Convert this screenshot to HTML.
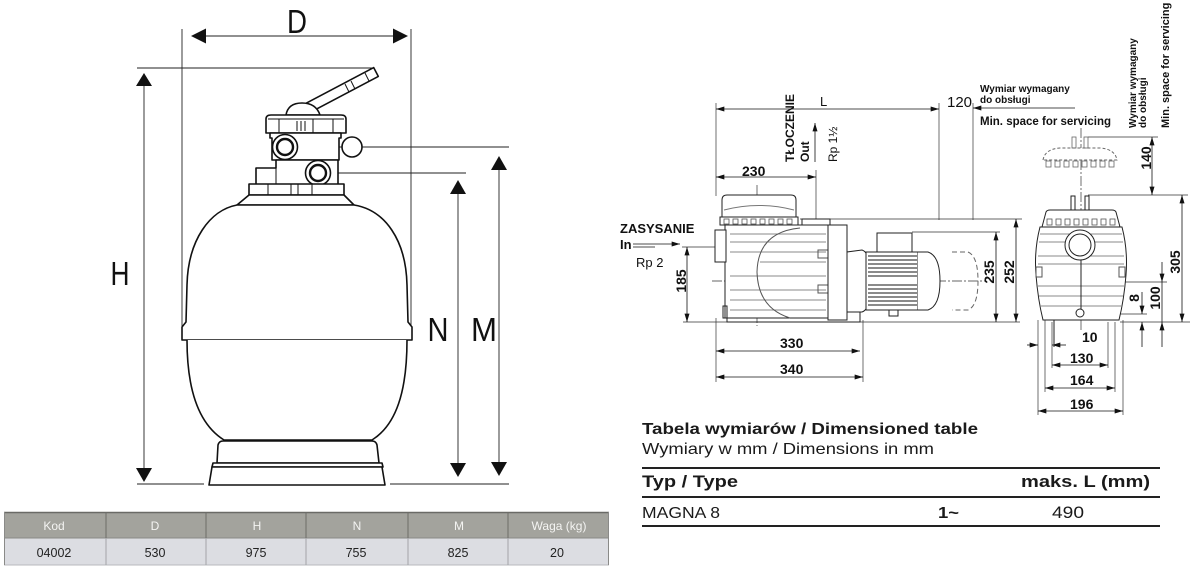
<!DOCTYPE html>
<html><head><meta charset="utf-8"><style>
html,body{margin:0;padding:0;background:#fff;}
svg{display:block;}
text{font-family:"Liberation Sans",Arial,sans-serif;}
</style></head><body>
<svg width="1195" height="574" viewBox="0 0 1195 574" xmlns="http://www.w3.org/2000/svg">
<defs>
<marker id="a" viewBox="0 0 10 6" refX="10" refY="3" markerWidth="9" markerHeight="5" orient="auto-start-reverse" markerUnits="userSpaceOnUse"><path d="M0,0 L10,3 L0,6 z" fill="#111"/></marker>
</defs>

<!-- ============ LEFT FILTER ============ -->
<g stroke="#222" stroke-width="0.9" fill="none">
  <line x1="182" y1="29" x2="182" y2="326"/>
  <line x1="411" y1="29" x2="411" y2="326"/>
  <line x1="200" y1="36" x2="398" y2="36"/>
  <line x1="137" y1="68" x2="373" y2="68"/>
  <line x1="144" y1="84" x2="144" y2="470"/>
  <line x1="137" y1="484" x2="204" y2="484"/>
  <line x1="390" y1="484" x2="509" y2="484"/>
  <line x1="298" y1="147" x2="509" y2="147"/>
  <line x1="330" y1="173" x2="466" y2="173"/>
  <line x1="458" y1="192" x2="458" y2="466"/>
  <line x1="499" y1="168" x2="499" y2="465"/>
</g>
<g fill="#111">
  <polygon points="191,36 206,28.5 206,43.5"/>
  <polygon points="408,36 393,28.5 393,43.5"/>
  <polygon points="144,73 136,86 152,86"/>
  <polygon points="144,482 136,468 152,468"/>
  <polygon points="458,180 450,194 466,194"/>
  <polygon points="458,477 450,463 466,463"/>
  <polygon points="499,156 491,170 507,170"/>
  <polygon points="499,476 491,462 507,462"/>
</g>
<text x="297" y="33" font-size="33" text-anchor="middle" fill="#111" textLength="20" lengthAdjust="spacingAndGlyphs">D</text>
<text x="120" y="285" font-size="33" text-anchor="middle" fill="#111" textLength="19" lengthAdjust="spacingAndGlyphs">H</text>
<text x="438" y="341" font-size="33" text-anchor="middle" fill="#111" textLength="21" lengthAdjust="spacingAndGlyphs">N</text>
<text x="484" y="341" font-size="33" text-anchor="middle" fill="#111" textLength="26" lengthAdjust="spacingAndGlyphs">M</text>

<g stroke="#111" stroke-width="1.6" fill="#fff" stroke-linejoin="round">
  <!-- handle -->
  <polygon points="301.7,105.6 306.3,114.4 378.3,76.4 373.7,67.6"/>
  <line x1="345" y1="84" x2="349" y2="92" stroke-width="1"/>
  <line x1="351" y1="81" x2="355" y2="89" stroke-width="1"/>
  <line x1="365" y1="73" x2="369" y2="81" stroke-width="1"/>
  <path d="M286,115 Q288,103 302,103 Q316,103 320,115 Z"/>
  <!-- cap -->
  <path d="M266,133 L266,119 Q266,115 271,115 L341,115 Q346,115 346,119 L346,133 Z"/>
  <line x1="268" y1="119" x2="344" y2="119" stroke-width="1"/>
  <line x1="279" y1="119" x2="279" y2="133" stroke-width="1"/>
  <line x1="297" y1="121" x2="297" y2="131" stroke-width="1"/>
  <line x1="301" y1="121" x2="301" y2="131" stroke-width="1"/>
  <line x1="305" y1="121" x2="305" y2="131" stroke-width="1"/>
  <line x1="313" y1="119" x2="313" y2="133" stroke-width="1"/>
  <line x1="333" y1="119" x2="333" y2="133" stroke-width="1"/>
  <!-- valve body -->
  <path d="M270,133 L341,133 L341,138 L339,138 L339,160 L272,160 L272,138 L270,138 Z"/>
  <circle cx="352" cy="147" r="10"/>
  <path d="M256,168 L276,168 L276,160 L338,160 L338,185 L256,185 Z"/>
  <line x1="276" y1="168" x2="276" y2="185" stroke-width="1"/>
  <circle cx="285" cy="147" r="12.5"/>
  <circle cx="285" cy="147" r="8" stroke-width="2.4"/>
  <circle cx="318" cy="173" r="12.5"/>
  <circle cx="318" cy="173" r="8" stroke-width="2.4"/>
  <!-- neck -->
  <rect x="249" y="184" width="95" height="11"/>
  <line x1="268" y1="184" x2="268" y2="195" stroke-width="1"/>
  <line x1="291" y1="184" x2="291" y2="195" stroke-width="1"/>
  <line x1="298" y1="184" x2="298" y2="195" stroke-width="1"/>
  <line x1="312" y1="184" x2="312" y2="195" stroke-width="1"/>
  <path d="M249,195 L344,195 L354,205 L237,205 Z"/>
  <!-- upper dome -->
  <path d="M237,205 C210,210 188,240 187,285 L186,322 L182,327 L182,340 L412,340 L412,327 L408,322 L407,285 C406,240 385,210 354,205 Z"/>
  <!-- lower bowl -->
  <path d="M187,340 C187,392 200,425 224,440 L372,440 C396,425 407,392 407,340"/>
  <!-- base -->
  <path d="M217,463 L218,445 Q219,441 223,441 L372,441 Q376,441 377,445 L379,463 Z"/>
  <path d="M212,467 L213,463 L382,463 L383,467 Z"/>
  <path d="M212,467 L209,485 L385,485 L382,467 Z"/>
</g>

<!-- left table -->
<g>
  <rect x="4" y="512" width="605" height="26" fill="#a3a39d"/>
  <rect x="4" y="538" width="605" height="27" fill="#dcdde2"/>
  <line x1="4" y1="512.5" x2="609" y2="512.5" stroke="#6a6a66" stroke-width="1.5"/>
  <line x1="4" y1="538" x2="609" y2="538" stroke="#8a8a86" stroke-width="1"/>
  <line x1="4" y1="565" x2="609" y2="565" stroke="#b8b9bd" stroke-width="1"/>
  <line x1="4.5" y1="512" x2="4.5" y2="565" stroke="#8a8a88"/>
  <line x1="608.5" y1="512" x2="608.5" y2="565" stroke="#8a8a88"/>
  <g stroke="#6c6c68" stroke-width="1">
    <line x1="106" y1="512" x2="106" y2="538"/><line x1="206" y1="512" x2="206" y2="538"/>
    <line x1="306" y1="512" x2="306" y2="538"/><line x1="408" y1="512" x2="408" y2="538"/>
    <line x1="508" y1="512" x2="508" y2="538"/>
  </g>
  <g stroke="#a3a4a8" stroke-width="1">
    <line x1="106" y1="538" x2="106" y2="565"/><line x1="206" y1="538" x2="206" y2="565"/>
    <line x1="306" y1="538" x2="306" y2="565"/><line x1="408" y1="538" x2="408" y2="565"/>
    <line x1="508" y1="538" x2="508" y2="565"/>
  </g>
  <g font-size="12" fill="#f4f4f2" text-anchor="middle">
    <text x="54" y="530">Kod</text><text x="155" y="530">D</text><text x="257" y="530">H</text>
    <text x="357" y="530">N</text><text x="459" y="530">M</text><text x="559" y="530">Waga (kg)</text>
  </g>
  <g font-size="12.5" fill="#222" text-anchor="middle">
    <text x="54" y="557">04002</text><text x="155" y="557">530</text><text x="256" y="557">975</text>
    <text x="356" y="557">755</text><text x="458" y="557">825</text><text x="557" y="557">20</text>
  </g>
</g>

<!-- ============ PUMP ============ -->
<!-- extension lines -->
<g stroke="#333" stroke-width="0.7" fill="none">
  <line x1="716" y1="103" x2="716" y2="196"/>
  <line x1="716" y1="318" x2="716" y2="382"/>
  <line x1="816" y1="170" x2="816" y2="220"/>
  <line x1="939" y1="103" x2="939" y2="220"/>
  <line x1="973" y1="103" x2="973" y2="220"/>
  <line x1="863" y1="320" x2="863" y2="382"/>
  <line x1="800" y1="219" x2="1022" y2="219"/>
  <line x1="912" y1="232" x2="1000" y2="232"/>
  <line x1="683" y1="322" x2="1020" y2="322"/>
  <line x1="1120" y1="322" x2="1190" y2="322"/>
  <line x1="682" y1="247" x2="715" y2="247"/>
  <line x1="1088" y1="195" x2="1188" y2="195"/>
  <line x1="1088" y1="137" x2="1158" y2="137"/>
  <line x1="1120" y1="282" x2="1167" y2="282"/>
  <line x1="1120" y1="314" x2="1147" y2="314"/>
  <line x1="1038" y1="320" x2="1038" y2="415"/>
  <line x1="1045" y1="320" x2="1045" y2="392"/>
  <line x1="1052" y1="322" x2="1052" y2="368"/>
  <line x1="1108" y1="322" x2="1108" y2="368"/>
  <line x1="1115" y1="322" x2="1115" y2="392"/>
  <line x1="1123" y1="320" x2="1123" y2="415"/>
  <line x1="757" y1="185" x2="757" y2="326" stroke-dasharray="10 2 2 2"/>
  <line x1="712" y1="281" x2="986" y2="281" stroke-dasharray="10 2 2 2"/>
  <line x1="1081" y1="128" x2="1081" y2="330" stroke-dasharray="10 2 2 2"/>
</g>
<!-- dimension lines -->
<g stroke="#111" stroke-width="0.8" fill="none" marker-start="url(#a)" marker-end="url(#a)">
  <line x1="716" y1="109" x2="939" y2="109"/>
  <line x1="716" y1="177" x2="816" y2="177"/>
  <line x1="716" y1="351" x2="860" y2="351"/>
  <line x1="716" y1="377" x2="863" y2="377"/>
  <line x1="1052" y1="365" x2="1108" y2="365"/>
  <line x1="1045" y1="388" x2="1115" y2="388"/>
  <line x1="1038" y1="411" x2="1123" y2="411"/>
  <line x1="687" y1="247" x2="687" y2="322"/>
  <line x1="996" y1="232" x2="996" y2="322"/>
  <line x1="1016" y1="219" x2="1016" y2="322"/>
  <line x1="1152" y1="137" x2="1152" y2="195"/>
  <line x1="1182" y1="195" x2="1182" y2="322"/>
</g>
<g stroke="#111" stroke-width="0.8" fill="none">
  <line x1="973" y1="108" x2="1075" y2="108" marker-start="url(#a)"/>
  <line x1="815" y1="162" x2="815" y2="123" marker-end="url(#a)"/>
  <line x1="1027" y1="345" x2="1038" y2="345" marker-end="url(#a)"/>
  <line x1="1066" y1="345" x2="1052" y2="345" marker-end="url(#a)"/>
  <line x1="1162" y1="262" x2="1162" y2="282" marker-end="url(#a)"/>
  <line x1="1162" y1="347" x2="1162" y2="322" marker-end="url(#a)"/>
  <line x1="1162" y1="282" x2="1162" y2="322"/>
  <line x1="1142" y1="292" x2="1142" y2="314" marker-end="url(#a)"/>
  <line x1="1142" y1="347" x2="1142" y2="322" marker-end="url(#a)"/>
  <line x1="633" y1="244" x2="680" y2="244" marker-end="url(#a)"/>
  <line x1="633" y1="247" x2="655" y2="247"/>
</g>

<!-- pump side view -->
<g stroke="#222" stroke-width="1" fill="#fff">
  <path d="M722,217 L722,200 Q722,195 727,195 L791,195 Q796,195 796,200 L796,217 Z"/>
  <path d="M724,210 Q759,201 794,210" fill="none" stroke="#777"/>
  <rect x="720" y="217" width="78" height="8"/>
  <g fill="none" stroke="#555" stroke-width="0.8">
    <rect x="724" y="219" width="5" height="5"/><rect x="733" y="219" width="5" height="5"/>
    <rect x="742" y="219" width="5" height="5"/><rect x="751" y="219" width="5" height="5"/>
    <rect x="760" y="219" width="5" height="5"/><rect x="769" y="219" width="5" height="5"/>
    <rect x="778" y="219" width="5" height="5"/><rect x="787" y="219" width="5" height="5"/>
  </g>
  <rect x="725" y="225" width="103" height="93"/>
  <rect x="715" y="230" width="11" height="32"/>
  <rect x="802" y="219" width="28" height="6"/>
  <g stroke="#888" stroke-width="0.9" fill="none">
    <line x1="730" y1="234" x2="826" y2="234"/><line x1="730" y1="242" x2="826" y2="242"/>
    <line x1="730" y1="252" x2="826" y2="252"/><line x1="760" y1="262" x2="826" y2="262"/>
    <line x1="730" y1="276" x2="826" y2="276"/><line x1="730" y1="290" x2="826" y2="290"/>
    <line x1="730" y1="300" x2="826" y2="300"/><line x1="730" y1="310" x2="826" y2="310"/>
  </g>
  <path d="M800,228 Q758,232 757,272 Q758,308 790,318" fill="none" stroke="#555"/>
  <rect x="818" y="250" width="10" height="8" fill="none" stroke="#555"/>
  <rect x="818" y="285" width="10" height="8" fill="none" stroke="#555"/>
  <rect x="723" y="306" width="4" height="12" fill="none"/>
  <rect x="828" y="225" width="19" height="95"/>
  <path d="M847,312 L847,252 L862,250 Q868,252 868,262 L868,300 Q868,310 862,312 Z"/>
  <rect x="866" y="252" width="52" height="58"/>
  <g stroke="#444" stroke-width="1.3">
    <line x1="868" y1="256" x2="917" y2="256"/><line x1="868" y1="260" x2="917" y2="260"/>
    <line x1="868" y1="264" x2="917" y2="264"/><line x1="868" y1="268" x2="917" y2="268"/>
    <line x1="868" y1="272" x2="917" y2="272"/><line x1="868" y1="276" x2="917" y2="276"/>
    <line x1="868" y1="285" x2="917" y2="285"/><line x1="868" y1="289" x2="917" y2="289"/>
    <line x1="868" y1="293" x2="917" y2="293"/><line x1="868" y1="297" x2="917" y2="297"/>
    <line x1="868" y1="301" x2="917" y2="301"/><line x1="868" y1="305" x2="917" y2="305"/>
  </g>
  <rect x="877" y="233" width="35" height="19"/>
  <path d="M918,252 L928,252 Q940,256 940,281 Q940,306 928,310 L918,310"/>
  <path d="M952,252 L968,252 Q978,256 978,281 Q978,306 968,310 L952,310" fill="none" stroke="#666" stroke-dasharray="5 3"/>
  <path d="M727,318 L727,322 L860,322 L860,312 L847,312" fill="none"/>
  <rect x="889" y="310" width="9" height="6"/>
</g>

<!-- pump front view -->
<g stroke="#222" stroke-width="1" fill="#fff">
  <path d="M1043,160 Q1045,149 1060,148 L1100,148 Q1115,149 1117,160 Z" stroke="#666" stroke-dasharray="3 2"/>
  <g fill="none" stroke="#666" stroke-width="0.8">
    <rect x="1046" y="161" width="5" height="6"/><rect x="1055" y="161" width="5" height="6"/>
    <rect x="1064" y="161" width="5" height="6"/><rect x="1073" y="161" width="5" height="6"/>
    <rect x="1082" y="161" width="5" height="6"/><rect x="1091" y="161" width="5" height="6"/>
    <rect x="1100" y="161" width="5" height="6"/><rect x="1109" y="161" width="5" height="6"/>
    <rect x="1072" y="137" width="4" height="11"/><rect x="1084" y="137" width="4" height="11"/>
  </g>
  <path d="M1040,227 L1122,227 Q1128,250 1126,275 Q1124,300 1119,320 L1043,320 Q1038,300 1036,275 Q1034,250 1040,227 Z"/>
  <g stroke="#888" stroke-width="0.9">
    <line x1="1040" y1="234" x2="1122" y2="234"/><line x1="1039" y1="242" x2="1123" y2="242"/>
    <line x1="1038" y1="256" x2="1124" y2="256"/><line x1="1038" y1="264" x2="1124" y2="264"/>
    <line x1="1038" y1="286" x2="1124" y2="286"/><line x1="1039" y1="296" x2="1123" y2="296"/>
    <line x1="1040" y1="306" x2="1122" y2="306"/>
  </g>
  <path d="M1042,227 L1046,212 Q1047,210 1050,210 L1112,210 Q1115,210 1116,212 L1120,227 Z"/>
  <g fill="none" stroke="#555" stroke-width="0.8">
    <rect x="1047" y="219" width="5" height="6"/><rect x="1056" y="219" width="5" height="6"/>
    <rect x="1065" y="219" width="5" height="6"/><rect x="1074" y="219" width="5" height="6"/>
    <rect x="1083" y="219" width="5" height="6"/><rect x="1092" y="219" width="5" height="6"/>
    <rect x="1101" y="219" width="5" height="6"/><rect x="1110" y="219" width="5" height="6"/>
  </g>
  <rect x="1071" y="196" width="4" height="14"/><rect x="1085" y="196" width="4" height="14"/>
  <circle cx="1080" cy="245" r="15"/>
  <circle cx="1080" cy="245" r="11"/>
  <line x1="1081" y1="260" x2="1081" y2="310" fill="none"/>
  <circle cx="1080" cy="313" r="4"/>
  <rect x="1036" y="267" width="6" height="10" fill="none" stroke="#555"/>
  <rect x="1119" y="267" width="6" height="10" fill="none" stroke="#555"/>
  <line x1="1054" y1="320" x2="1054" y2="347" fill="none"/>
</g>

<!-- pump labels -->
<g fill="#111" font-size="14" font-weight="bold">
  <text x="820" y="106" font-size="13" font-weight="normal">L</text>
  <text x="947" y="107" font-weight="normal" font-size="15">120</text>
  <text x="742" y="176">230</text>
  <text x="780" y="348">330</text>
  <text x="780" y="374">340</text>
  <text x="1082" y="342">10</text>
  <text x="1070" y="363">130</text>
  <text x="1070" y="385">164</text>
  <text x="1070" y="409">196</text>
  <g text-anchor="middle">
    <text transform="translate(686,281) rotate(-90)">185</text>
    <text transform="translate(994,272) rotate(-90)">235</text>
    <text transform="translate(1014,272) rotate(-90)">252</text>
    <text transform="translate(1180,262) rotate(-90)">305</text>
    <text transform="translate(1151,158) rotate(-90)">140</text>
    <text transform="translate(1160,298) rotate(-90)">100</text>
    <text transform="translate(1139,298) rotate(-90)">8</text>
  </g>
  <text x="620" y="233" font-size="13">ZASYSANIE</text>
  <text x="620" y="249" font-size="13">In</text>
  <text x="636" y="267" font-size="13" font-weight="normal">Rp 2</text>
  <text transform="translate(794,162) rotate(-90)" font-size="12">TŁOCZENIE</text>
  <text transform="translate(809,162) rotate(-90)" font-size="12">Out</text>
  <text transform="translate(837,162) rotate(-90)" font-size="12" font-weight="normal">Rp 1½</text>
  <text x="980" y="92" font-size="10">Wymiar wymagany</text>
  <text x="980" y="103" font-size="10">do obsługi</text>
  <text x="980" y="125" font-size="11.5">Min. space for servicing</text>
  <text transform="translate(1136,128) rotate(-90)" font-size="10">Wymiar wymagany</text>
  <text transform="translate(1146,128) rotate(-90)" font-size="10">do obsługi</text>
  <text transform="translate(1169,128) rotate(-90)" font-size="11">Min. space for servicing</text>
</g>

<!-- right table -->
<g fill="#1a1a1a">
  <text x="642" y="434" font-size="16" font-weight="bold" textLength="336" lengthAdjust="spacingAndGlyphs">Tabela wymiarów / Dimensioned table</text>
  <text x="642" y="454" font-size="16" textLength="292" lengthAdjust="spacingAndGlyphs">Wymiary w mm / Dimensions in mm</text>
  <text x="642" y="487" font-size="17" font-weight="bold" textLength="96" lengthAdjust="spacingAndGlyphs">Typ / Type</text>
  <text x="1021" y="487" font-size="17" font-weight="bold" textLength="129" lengthAdjust="spacingAndGlyphs">maks. L (mm)</text>
  <text x="642" y="518" font-size="16" textLength="78" lengthAdjust="spacingAndGlyphs">MAGNA 8</text>
  <text x="938" y="518" font-size="16" font-weight="bold" textLength="21" lengthAdjust="spacingAndGlyphs">1~</text>
  <text x="1052" y="518" font-size="17" textLength="32" lengthAdjust="spacingAndGlyphs">490</text>
</g>
<g stroke="#222" stroke-width="2">
  <line x1="642" y1="468" x2="1160" y2="468"/>
  <line x1="642" y1="497" x2="1160" y2="497"/>
  <line x1="642" y1="526" x2="1160" y2="526"/>
</g>
</svg>
</body></html>
